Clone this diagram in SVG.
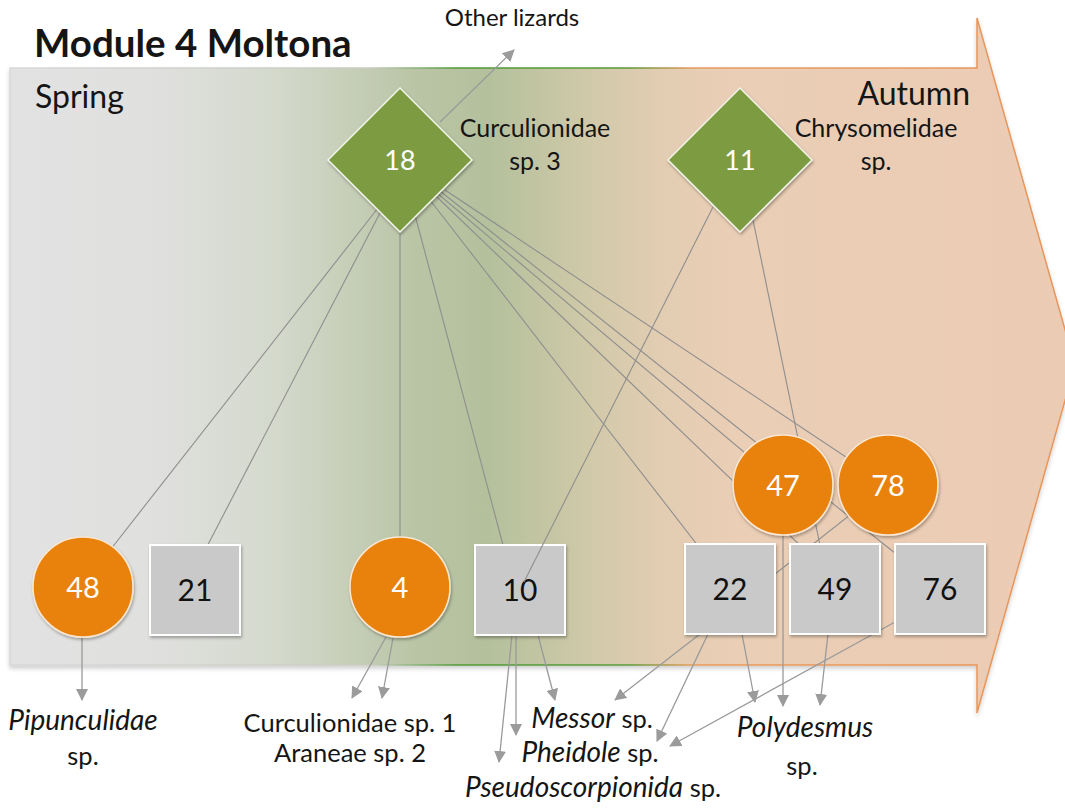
<svg xmlns="http://www.w3.org/2000/svg" width="1065" height="810" viewBox="0 0 1065 810">
  <style>
    text { font-family: Lato, "Open Sans", "Liberation Sans", sans-serif; fill: #151515; }
    .title { font-size: 38.5px; font-weight: bold; }
    .season { font-size: 32px; }
    .lab { font-size: 25px; }
    .blab { font-size: 25.5px; }
    .it { font-style: italic; font-size: 28px; }
    .wnum { font-size: 29px; fill: #ffffff; text-anchor: middle; }
    .bnum { font-size: 30px; fill: #111111; text-anchor: middle; }
    .mid { text-anchor: middle; }
    .edge { stroke: #8e8e8e; stroke-width: 1.1; fill: none; }
    .flow { stroke: #9a9a9a; stroke-width: 1.3; fill: none; marker-end: url(#arr); }
    .box { fill: #c9c9c9; stroke: #ffffff; stroke-width: 2; filter: url(#sh); }
    .circ { fill: #e8820c; stroke: #fbe7d2; stroke-width: 1.5; filter: url(#sh); }
    .dia { fill: #7d9c43; stroke: #f2f5ea; stroke-width: 1.5; filter: url(#sh); }
  </style>
  <defs>
    <linearGradient id="season-fill" gradientUnits="userSpaceOnUse" x1="10" y1="0" x2="1075" y2="0">
      <stop offset="0" stop-color="#e2e2e2"/>
      <stop offset="0.13" stop-color="#e0e0df"/>
      <stop offset="0.25" stop-color="#d4d9cc"/>
      <stop offset="0.38" stop-color="#bac5a6"/>
      <stop offset="0.45" stop-color="#b4c09c"/>
      <stop offset="0.54" stop-color="#cfc9a8"/>
      <stop offset="0.61" stop-color="#e2cdb2"/>
      <stop offset="0.68" stop-color="#eaceb6"/>
      <stop offset="1" stop-color="#eccbb3"/>
    </linearGradient>
    <linearGradient id="season-line" gradientUnits="userSpaceOnUse" x1="10" y1="0" x2="1075" y2="0">
      <stop offset="0" stop-color="#d8d8d8"/>
      <stop offset="0.34" stop-color="#c8ccc0"/>
      <stop offset="0.42" stop-color="#4f9a36"/>
      <stop offset="0.58" stop-color="#5a9a3a"/>
      <stop offset="0.64" stop-color="#e8995a"/>
      <stop offset="1" stop-color="#e8955a"/>
    </linearGradient>
    <filter id="sh" x="-20%" y="-20%" width="140%" height="140%">
      <feDropShadow dx="1" dy="2" stdDeviation="1.5" flood-color="#000" flood-opacity="0.3"/>
    </filter>
    <filter id="bodysh" x="-5%" y="-5%" width="110%" height="110%">
      <feDropShadow dx="0" dy="3" stdDeviation="2" flood-color="#000" flood-opacity="0.18"/>
    </filter>
    <marker id="arr" viewBox="0 0 12 12" refX="11" refY="6" markerWidth="12" markerHeight="12" orient="auto" markerUnits="userSpaceOnUse">
      <path d="M0,0 L12,6 L0,12 z" fill="#9b9b9b"/>
    </marker>
  </defs>

  <rect width="1065" height="810" fill="#ffffff"/>

  <!-- season arrow: spring on the left, autumn on the right -->
  <path d="M10,68 L977,68 L977,18 L1075,365 L977,713 L977,665 L10,665 Z"
        fill="url(#season-fill)" stroke="url(#season-line)" stroke-width="1.5" filter="url(#bodysh)"/>

  <text class="title" x="34" y="57">Module 4 Moltona</text>
  <text class="season" x="35" y="108">Spring</text>
  <text class="season" x="970" y="105" text-anchor="end">Autumn</text>
  <text class="mid" x="512" y="26" style="font-size:24px">Other lizards</text>
  <text class="lab mid" x="535" y="137">Curculionidae</text>
  <text class="lab mid" x="535" y="170">sp. 3</text>
  <text class="lab mid" x="876" y="137">Chrysomelidae</text>
  <text class="lab mid" x="876" y="170">sp.</text>

  <!-- links between plants, prey and lizards -->
  <g id="connectors">
    <path class="edge" d="M378,208 L100,563"/>
    <path class="edge" d="M381,211 L200,560"/>
    <path class="edge" d="M400,225 L400,545"/>
    <path class="edge" d="M415,215 L507,560"/>
    <path class="edge" d="M430,200 L709,560"/>
    <path class="edge" d="M437,193 L783,485"/>
    <path class="edge" d="M440,191 L905,561"/>
    <path class="edge" d="M445,190 L888,485"/>
    <path class="edge" d="M437,197 L806,551"/>
    <path class="edge" d="M752,215 L822,555"/>
    <path class="edge" d="M888,485 L770,578"/>
    <path class="flow" d="M440,122 L514,50"/>
    <path class="flow" d="M82,638 L82,700"/>
    <path class="flow" d="M386,637 L352,698"/>
    <path class="flow" d="M393,638 L382,698"/>
    <path class="flow" d="M512,635 L499,762"/>
    <path class="flow" d="M516,635 L516,735"/>
    <path class="flow" d="M538,635 L555,700"/>
    <path class="flow" d="M700,634 L615,700"/>
    <path class="flow" d="M708,634 L657,741"/>
    <path class="flow" d="M742,634 L755,702"/>
    <path class="flow" d="M783,535 L783,706"/>
    <path class="flow" d="M828,634 L820,705"/>
    <path class="flow" d="M895,622 L670,746"/>
  </g>

  <g id="n18">
    <path class="dia" d="M400,88 L472,160 L400,232 L328,160 Z"/>
    <text class="wnum" x="400" y="170" style="font-size:27px">18</text>
  </g>
  <g id="n11">
    <path class="dia" d="M740,88 L812,160 L740,232 L668,160 Z"/>
    <text class="wnum" x="740" y="170" style="font-size:27px">11</text>
  </g>
  <g id="n48">
    <circle class="circ" cx="83" cy="587" r="50"/>
    <text class="wnum" x="83" y="598">48</text>
  </g>
  <g id="n21">
    <rect class="box" x="150" y="545" width="90" height="90"/>
    <text class="bnum" x="195" y="601">21</text>
  </g>
  <g id="n4">
    <circle class="circ" cx="400" cy="587" r="50"/>
    <text class="wnum" x="400" y="598">4</text>
  </g>
  <g id="n10">
    <rect class="box" x="475" y="545" width="90" height="90"/>
    <text class="bnum" x="520" y="601">10</text>
  </g>
  <g id="n22">
    <rect class="box" x="685" y="544" width="90" height="90"/>
    <text class="bnum" x="730" y="600">22</text>
  </g>
  <g id="n49">
    <rect class="box" x="790" y="544" width="90" height="90"/>
    <text class="bnum" x="835" y="600">49</text>
  </g>
  <g id="n76">
    <rect class="box" x="895" y="544" width="90" height="90"/>
    <text class="bnum" x="940" y="600">76</text>
  </g>
  <g id="n47">
    <circle class="circ" cx="783" cy="485" r="50"/>
    <text class="wnum" x="783" y="496">47</text>
  </g>
  <g id="n78">
    <circle class="circ" cx="888" cy="485" r="50"/>
    <text class="wnum" x="888" y="496">78</text>
  </g>

  <!-- link drawn across node 10 -->
  <g id="connectors-front">
    <path class="edge" d="M713,207 L524,582"/>
  </g>

  <!-- prey names below the arrow -->
  <text class="blab it mid" x="83" y="730">Pipunculidae</text>
  <text class="blab mid" x="83" y="765">sp.</text>
  <text class="blab mid" x="350" y="732">Curculionidae sp. 1</text>
  <text class="blab mid" x="350" y="762">Araneae sp. 2</text>
  <text class="blab mid" x="592" y="728"><tspan class="it">Messor</tspan> sp.</text>
  <text class="blab mid" x="590" y="762"><tspan class="it">Pheidole</tspan> sp.</text>
  <text class="blab mid" x="593" y="797"><tspan class="it">Pseudoscorpionida</tspan> sp.</text>
  <text class="blab it mid" x="805" y="737">Polydesmus</text>
  <text class="blab mid" x="802" y="775">sp.</text>
</svg>
